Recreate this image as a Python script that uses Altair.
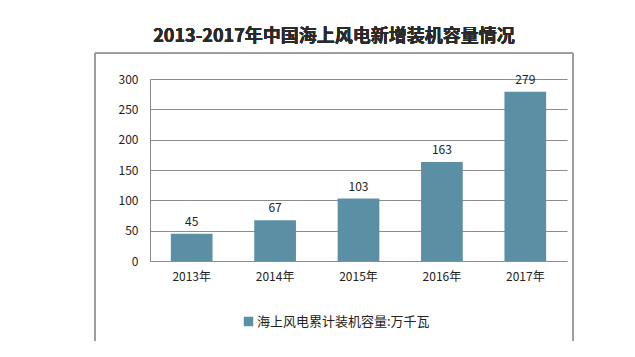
import altair as alt
import pandas as pd

years = ["2013年", "2014年", "2015年", "2016年", "2017年"]
values = [45, 67, 103, 163, 279]
series_name = "海上风电累计装机容量:万千瓦"
title_text = "2013-2017年中国海上风电新增装机容量情况"
y_ticks = [0, 50, 100, 150, 200, 250, 300]

df = pd.DataFrame({"year": years, "value": values, "series": [series_name] * len(years)})

FONT = "Noto Sans CJK SC"
W, H = 417, 182

x = alt.X("year:N", sort=years, title=None,
          scale=alt.Scale(paddingInner=0.5, paddingOuter=0.25),
          axis=alt.Axis(labelAngle=0, ticks=False, domainColor="#8c8c8c",
                        labelFont=FONT, labelFontSize=12, labelColor="#222",
                        labelPadding=10))
y = alt.Y("value:Q", title=None,
          scale=alt.Scale(domain=[0, 300]),
          axis=alt.Axis(values=y_ticks, ticks=False, labelOverlap=False,
                        domainColor="#8c8c8c", gridColor="#8c8c8c", grid=True,
                        labelFont=FONT, labelFontSize=12, labelColor="#222",
                        labelPadding=12))

frame = alt.Chart(df).mark_rect(fill=None, stroke="#9a9a9a", strokeWidth=1, clip=False).encode(
    x=alt.value(-55), x2=alt.value(423), y=alt.value(-26), y2=alt.value(266)
)

base = alt.Chart(df).encode(x=x, y=y)

bars = base.mark_bar(color="#5b8fa3").encode(
    color=alt.Color("series:N", scale=alt.Scale(range=["#5b8fa3"]),
                    legend=alt.Legend(title=None, orient="none", legendX=92, legendY=236,
                                      symbolType="square", symbolSize=90,
                                      symbolStrokeWidth=0, labelLimit=0,
                                      labelFont=FONT, labelFontSize=13, labelColor="#222",
                                      labelOffset=2))
)

labels = base.mark_text(dy=-12, font=FONT, fontSize=12, color="#222").encode(
    text="value:Q"
)

title = alt.Chart(df).mark_text(font=FONT, fontSize=18, fontWeight="bold", color="#2a2a2a",
                                clip=False).encode(
    x=alt.value(184), y=alt.value(-42), text=alt.value(title_text)
)

chart = alt.layer(frame, bars, labels, title).properties(
    width=W, height=H,
    autosize=alt.AutoSizeParams(type="none"),
    padding={"left": 142, "top": 71, "right": 50, "bottom": 80},
    background="white"
).configure_view(stroke=None)

chart.save("out.html", embed_options={"renderer": "svg", "actions": False})
